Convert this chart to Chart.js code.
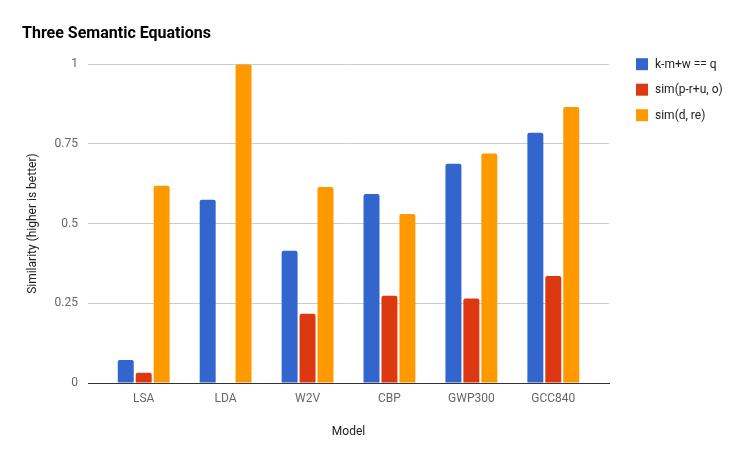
<!DOCTYPE html>
<html>
<head>
<meta charset="utf-8">
<script src="https://cdn.jsdelivr.net/npm/chart.js@4"></script>
<style>
  html, body { margin: 0; padding: 0; background: #fff; }
  #wrap { width: 746px; height: 461px; }
</style>
</head>
<body>
<div id="wrap"><canvas id="chart" width="746" height="461"></canvas></div>
<script>
const MODELS = ['LSA', 'LDA', 'W2V', 'CBP', 'GWP300', 'GCC840'];
const SERIES_NAMES = ['k-m+w == q', 'sim(p-r+u, o)', 'sim(d, re)'];
const KMWQ = [0.072, 0.575, 0.415, 0.593, 0.688, 0.785];
const SIM_PRUO = [0.032, 0, 0.217, 0.274, 0.265, 0.336];
const SIM_DRE = [0.619, 1.0, 0.615, 0.53, 0.72, 0.866];
const Y_TICKS = [0, 0.25, 0.5, 0.75, 1];

const COLORS = ['#3366cc', '#dc3912', '#ff9900'];
const FONT = 'Roboto, "Noto Sans", sans-serif';
const END_ROOM = 0.18; // empty space at both ends of the baseline, in categories

function barSet(label, data, color) {
  return {
    label,
    data,
    backgroundColor: color,
    borderWidth: 0,
    borderRadius: { topLeft: 2, topRight: 2 },
    borderSkipped: 'start',
    categoryPercentage: 0.657,
    barPercentage: 0.89,
  };
}

// legend drawn to the right of the plot, top-aligned with it
const sideLegend = {
  id: 'sideLegend',
  afterDraw(chart) {
    const c = chart.ctx;
    const x = chart.chartArea.right + 27;
    let y = chart.chartArea.top - 6;
    c.save();
    c.font = '12px ' + FONT;
    c.textBaseline = 'middle';
    chart.data.datasets.forEach(ds => {
      c.fillStyle = ds.backgroundColor;
      c.fillRect(x, y, 12, 12);
      c.fillStyle = '#222';
      c.fillText(ds.label, x + 19, y + 6.5);
      y += 25.5;
    });
    c.restore();
  },
};

const ctx = document.getElementById('chart').getContext('2d');
new Chart(ctx, {
  type: 'bar',
  data: {
    labels: MODELS,
    datasets: [
      barSet(SERIES_NAMES[0], KMWQ, COLORS[0]),
      barSet(SERIES_NAMES[1], SIM_PRUO, COLORS[1]),
      barSet(SERIES_NAMES[2], SIM_DRE, COLORS[2]),
    ],
  },
  plugins: [sideLegend],
  options: {
    responsive: false,
    animation: false,
    layout: { padding: { left: 22, right: 137, top: 0, bottom: 0 } },
    plugins: {
      title: {
        display: true,
        text: 'Three Semantic Equations',
        align: 'start',
        color: '#000',
        font: { family: FONT, size: 16, weight: 'bold' },
        padding: { top: 24, bottom: 21 },
      },
      legend: { display: false },
      tooltip: { enabled: false },
    },
    scales: {
      x: {
        offset: true,
        afterBuildTicks: axis => {
          axis._startValue = -0.5 - END_ROOM;
          axis._valueRange = MODELS.length + 2 * END_ROOM;
        },
        grid: { display: false, drawTicks: false },
        border: { display: true, color: '#333', width: 1 },
        ticks: {
          color: '#666',
          font: { family: FONT, size: 12 },
          padding: 9,
        },
        title: {
          display: true,
          text: 'Model',
          color: '#222',
          font: { family: FONT, size: 12 },
          padding: { top: 0, bottom: 22 },
        },
        afterFit: axis => { axis.height = 78; },
      },
      y: {
        min: 0,
        max: 1,
        afterBuildTicks: axis => { axis.ticks = Y_TICKS.map(v => ({ value: v })); },
        grid: { color: '#cccccc', drawTicks: false },
        border: { display: false },
        ticks: {
          color: '#666',
          font: { family: FONT, size: 12 },
          padding: 10,
          callback: v => String(v),
        },
        title: {
          display: true,
          text: 'Similarity (higher is better)',
          color: '#222',
          font: { family: FONT, size: 12 },
        },
        afterFit: axis => { axis.width = 66; },
      },
    },
  },
});
</script>
</body>
</html>
